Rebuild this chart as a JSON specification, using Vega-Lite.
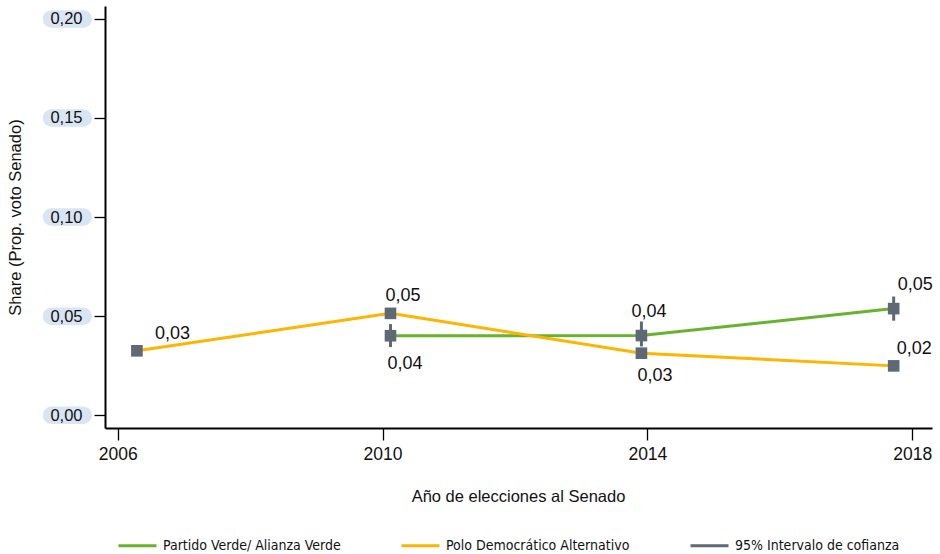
{
  "$schema": "https://vega.github.io/schema/vega-lite/v6.json",
  "width": 827,
  "height": 422,
  "autosize": {"type": "none"},
  "padding": {"left": 105, "top": 6, "right": 8, "bottom": 126},
  "background": "white",
  "config": {
    "font": "Liberation Sans",
    "view": {"stroke": null},
    "locale": {"number": {"decimal": ",", "thousands": ".", "grouping": [3], "currency": ["", " €"]}},
    "axis": {"zindex": 2, "grid": false, "domainColor": "#000000", "domainWidth": 2, "tickColor": "#000000", "tickWidth": 1.3, "tickSize": 11, "labelColor": "#111111", "labelFont": "Liberation Sans", "labelFontSize": 17.5, "titleFont": "Liberation Sans", "titleFontSize": 16.5, "titleFontWeight": "normal", "titleColor": "#111111"}
  },
  "datasets": {
    "main": [
      {"serie": "Partido Verde/ Alianza Verde", "year": 2010.12, "share": 0.0401, "lo": 0.0344, "hi": 0.046},
      {"serie": "Partido Verde/ Alianza Verde", "year": 2013.91, "share": 0.0402, "lo": 0.0347, "hi": 0.0473},
      {"serie": "Partido Verde/ Alianza Verde", "year": 2017.72, "share": 0.0538, "lo": 0.0477, "hi": 0.0599},
      {"serie": "Polo Democrático Alternativo", "year": 2006.29, "share": 0.0325},
      {"serie": "Polo Democrático Alternativo", "year": 2010.12, "share": 0.0514},
      {"serie": "Polo Democrático Alternativo", "year": 2013.91, "share": 0.0313},
      {"serie": "Polo Democrático Alternativo", "year": 2017.72, "share": 0.0249}
    ],
    "ticks": [{"tick": 0}, {"tick": 0.05}, {"tick": 0.1}, {"tick": 0.15}, {"tick": 0.2}]
  },
  "layer": [
    {
      "data": {"name": "ticks"},
      "mark": {"type": "point", "filled": true, "opacity": 1, "color": "#dae5f3", "strokeWidth": 0, "size": 2401, "zindex": 0, "shape": "M-0.643,-0.357L0.643,-0.357A0.357,0.357,0,0,1,0.643,0.357L-0.643,0.357A0.357,0.357,0,0,1,-0.643,-0.357Z"},
      "encoding": {
        "x": {"datum": 2005.24, "type": "quantitative", "scale": {"domain": [2005.808, 2018.299], "nice": false, "zero": false},
          "axis": {"zindex": 2, "values": [2006, 2010, 2014, 2018], "format": "d", "title": "Año de elecciones al Senado", "labelPadding": 5, "tickSize": 12, "labelFlush": false, "titleBaseline": "alphabetic", "titleY": 73, "titleX": 413}},
        "y": {"field": "tick", "type": "quantitative", "scale": {"domain": [-0.00645, 0.2065], "nice": false, "zero": false},
          "axis": {"zindex": 2, "values": [0, 0.05, 0.1, 0.15, 0.2], "format": ".2f", "title": "Share (Prop. voto Senado)", "labelPadding": 12, "labelFontSize": 16.5, "titleX": -82, "titleY": 211, "titleBaseline": "bottom"}}
      }
    },
    {
      "data": {"name": "main"},
      "mark": {"type": "line", "strokeWidth": 3},
      "encoding": {
        "x": {"field": "year", "type": "quantitative"},
        "y": {"field": "share", "type": "quantitative"},
        "color": {"field": "serie", "type": "nominal",
          "scale": {"domain": ["Partido Verde/ Alianza Verde", "Polo Democrático Alternativo", "95% Intervalo de cofianza"], "range": ["#68b22e", "#fcb500", "#5f6973"]},
          "legend": {"title": null, "orient": "none", "legendX": 12, "legendY": 519, "direction": "horizontal", "columns": 3, "columnPadding": 54, "symbolType": "stroke", "symbolSize": 1444, "symbolStrokeWidth": 3, "labelOffset": 5, "labelFont": "DejaVu Sans Condensed", "labelFontSize": 14, "labelColor": "#111111", "labelLimit": 400}}
      }
    },
    {
      "data": {"name": "main"},
      "transform": [{"filter": "isValid(datum.lo)"}],
      "mark": {"type": "rule", "strokeWidth": 3, "color": "#5f6973"},
      "encoding": {
        "x": {"field": "year", "type": "quantitative"},
        "y": {"field": "lo", "type": "quantitative"},
        "y2": {"field": "hi"}
      }
    },
    {
      "data": {"name": "main"},
      "mark": {"type": "square", "filled": true, "opacity": 1, "size": 135, "color": "#5f6973"},
      "encoding": {
        "x": {"field": "year", "type": "quantitative"},
        "y": {"field": "share", "type": "quantitative"}
      }
    },
    {
      "data": {"name": "main"},
      "transform": [{"filter": "datum.serie === 'Polo Democrático Alternativo' && datum.year < 2007"}],
      "mark": {"type": "text", "align": "left", "baseline": "middle", "dx": 18, "dy": -16.5, "fontSize": 18, "color": "#111111"},
      "encoding": {"x": {"field": "year", "type": "quantitative"}, "y": {"field": "share", "type": "quantitative"}, "text": {"field": "share", "type": "quantitative", "format": ".2f"}}
    },
    {
      "data": {"name": "main"},
      "transform": [{"filter": "datum.serie === 'Polo Democrático Alternativo' && datum.year > 2009 && datum.year < 2011"}],
      "mark": {"type": "text", "align": "left", "baseline": "middle", "dx": -5, "dy": -17.5, "fontSize": 18, "color": "#111111"},
      "encoding": {"x": {"field": "year", "type": "quantitative"}, "y": {"field": "share", "type": "quantitative"}, "text": {"field": "share", "type": "quantitative", "format": ".2f"}}
    },
    {
      "data": {"name": "main"},
      "transform": [{"filter": "datum.serie === 'Polo Democrático Alternativo' && datum.year > 2013 && datum.year < 2015"}],
      "mark": {"type": "text", "align": "left", "baseline": "middle", "dx": -4, "dy": 22.5, "fontSize": 18, "color": "#111111"},
      "encoding": {"x": {"field": "year", "type": "quantitative"}, "y": {"field": "share", "type": "quantitative"}, "text": {"field": "share", "type": "quantitative", "format": ".2f"}}
    },
    {
      "data": {"name": "main"},
      "transform": [{"filter": "datum.serie === 'Polo Democrático Alternativo' && datum.year > 2017"}],
      "mark": {"type": "text", "align": "left", "baseline": "middle", "dx": 3, "dy": -16.5, "fontSize": 18, "color": "#111111"},
      "encoding": {"x": {"field": "year", "type": "quantitative"}, "y": {"field": "share", "type": "quantitative"}, "text": {"field": "share", "type": "quantitative", "format": ".2f"}}
    },
    {
      "data": {"name": "main"},
      "transform": [{"filter": "datum.serie === 'Partido Verde/ Alianza Verde' && datum.year < 2011"}],
      "mark": {"type": "text", "align": "left", "baseline": "middle", "dx": -3, "dy": 28.5, "fontSize": 18, "color": "#111111"},
      "encoding": {"x": {"field": "year", "type": "quantitative"}, "y": {"field": "share", "type": "quantitative"}, "text": {"field": "share", "type": "quantitative", "format": ".2f"}}
    },
    {
      "data": {"name": "main"},
      "transform": [{"filter": "datum.serie === 'Partido Verde/ Alianza Verde' && datum.year > 2013 && datum.year < 2015"}],
      "mark": {"type": "text", "align": "left", "baseline": "middle", "dx": -10, "dy": -24, "fontSize": 18, "color": "#111111"},
      "encoding": {"x": {"field": "year", "type": "quantitative"}, "y": {"field": "share", "type": "quantitative"}, "text": {"field": "share", "type": "quantitative", "format": ".2f"}}
    },
    {
      "data": {"name": "main"},
      "transform": [{"filter": "datum.serie === 'Partido Verde/ Alianza Verde' && datum.year > 2017"}],
      "mark": {"type": "text", "align": "left", "baseline": "middle", "dx": 4, "dy": -24, "fontSize": 18, "color": "#111111"},
      "encoding": {"x": {"field": "year", "type": "quantitative"}, "y": {"field": "share", "type": "quantitative"}, "text": {"field": "share", "type": "quantitative", "format": ".2f"}}
    }
  ]
}
